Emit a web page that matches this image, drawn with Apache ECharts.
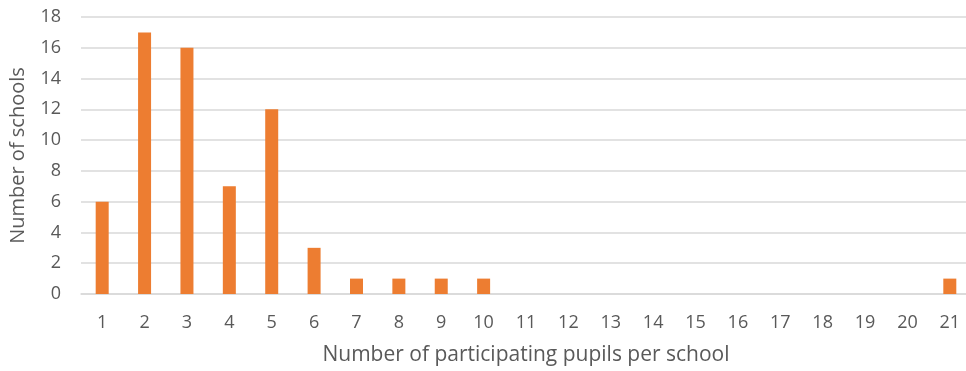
<!DOCTYPE html>
<html>
<head>
<meta charset="utf-8">
<script src="https://cdn.jsdelivr.net/npm/echarts@6/dist/echarts.min.js"></script>
<style>
  html, body { margin: 0; padding: 0; background: #fff; }
  #chart { width: 966px; height: 371px; }
</style>
</head>
<body>
<div id="chart"></div>
<script>
// Pupils per school (x) and how many schools had that many participants (y)
const pupilsPerSchool = ['1','2','3','4','5','6','7','8','9','10','11','12','13','14','15','16','17','18','19','20','21'];
const schoolCounts = [6, 17, 16, 7, 12, 3, 1, 1, 1, 1, 0, 0, 0, 0, 0, 0, 0, 0, 0, 0, 1];

const textColor = '#595959';
const fontFamily = '"Open Sans", "Liberation Sans", sans-serif';

const chart = echarts.init(document.getElementById('chart'));
chart.setOption({
  animation: false,
  grid: { left: 81, right: -5, top: 17, bottom: 77, outerBoundsMode: 'none', containLabel: false },
  xAxis: {
    type: 'category',
    data: pupilsPerSchool,
    name: 'Number of participating pupils per school',
    nameLocation: 'middle',
    nameGap: 51,
    nameTextStyle: { color: textColor, fontSize: 21, fontFamily },
    axisLine: { show: true, lineStyle: { color: '#d9d9d9', width: 1.5 } },
    axisTick: { show: false },
    axisLabel: { color: textColor, fontSize: 18, fontFamily, margin: 20 }
  },
  yAxis: {
    type: 'value',
    min: 0,
    max: 18,
    interval: 2,
    name: 'Number of schools',
    nameLocation: 'middle',
    nameGap: 53,
    nameTextStyle: { color: textColor, fontSize: 20, fontFamily },
    axisLine: { show: false },
    axisTick: { show: false },
    axisLabel: { color: textColor, fontSize: 18, fontFamily, margin: 20 },
    splitLine: { lineStyle: { color: '#d9d9d9', width: 1.5 } }
  },
  series: [{
    type: 'bar',
    data: schoolCounts,
    barWidth: 13,
    itemStyle: { color: '#ED7D31' }
  }]
});
</script>
</body>
</html>
